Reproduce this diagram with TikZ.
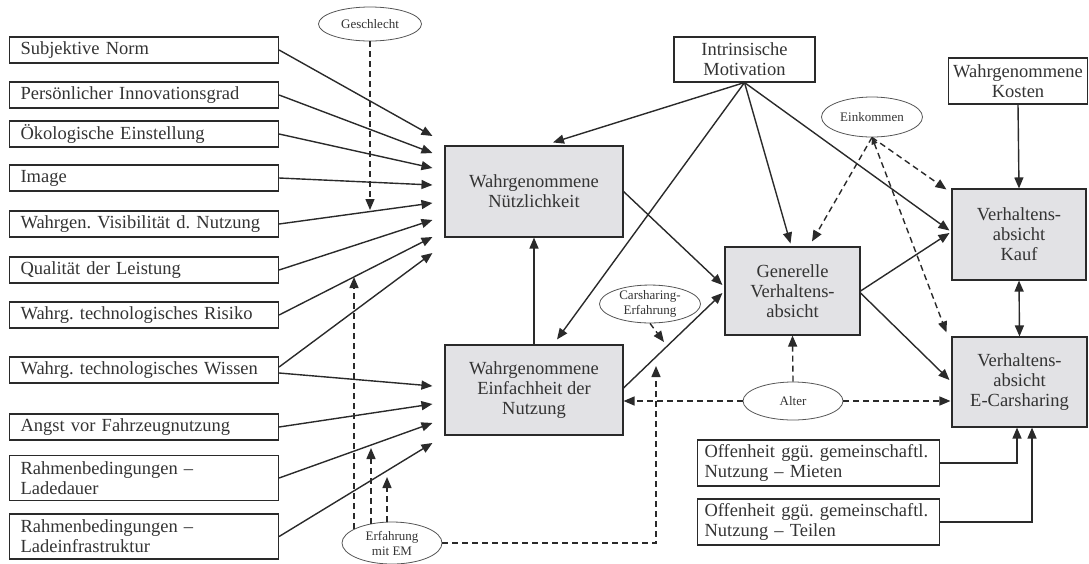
\documentclass[tikz,border=0pt]{standalone}
\usepackage{fontspec}
\setmainfont{Liberation Serif}
\usetikzlibrary{arrows.meta,shapes.geometric,calc}
\definecolor{ln}{HTML}{2A2A2A}
\definecolor{bx}{HTML}{E2E2E5}
\definecolor{tx}{HTML}{333333}
\definecolor{el}{HTML}{555555}
\frenchspacing
\begin{document}
\begin{tikzpicture}[x=1pt,y=-1pt,
  bfont/.style={font=\fontsize{18.5}{20}\selectfont},
  lbox/.style={draw=ln, line width=1.1pt, anchor=west, minimum height=26pt, text width=247pt, inner xsep=11pt, inner ysep=0pt, align=left, text=tx, bfont},
  rbox/.style={draw=ln, line width=1.1pt, anchor=west, minimum height=46pt, text width=228pt, inner xsep=7pt, inner ysep=0pt, align=left, text=tx, bfont},
  gbox/.style={draw=ln, line width=1.1pt, fill=bx, inner sep=0pt, align=center, text=tx, bfont},
  wbox/.style={draw=ln, line width=1.1pt, inner sep=0pt, align=center, text=tx, bfont},
  ell/.style={ellipse, draw=el, line width=0.8pt, inner sep=0pt, align=center, text=tx, font=\fontsize{13}{15}\selectfont},
  arr/.style={draw=ln, line width=1.4pt, -{Triangle[length=11pt,width=9pt]}},
  darr/.style={arr, dash pattern=on 6pt off 4pt},
  dline/.style={draw=ln, line width=1.4pt, dash pattern=on 6pt off 4pt}
]
\useasboundingbox (0,0) rectangle (1089,563);

% left boxes
\node[lbox] (sn) at (9,50) {Subjektive Norm};
\node[lbox] (pi) at (9,95) {Persönlicher Innovationsgrad};
\node[lbox] (oe) at (9,134) {Ökologische Einstellung};
\node[lbox] (im) at (9,178) {Image};
\node[lbox] (wv) at (9,224) {Wahrgen. Visibilität d. Nutzung};
\node[lbox] (ql) at (9,270) {Qualität der Leistung};
\node[lbox] (ri) at (9,315) {Wahrg. technologisches Risiko};
\node[lbox] (wi) at (9,370) {Wahrg. technologisches Wissen};
\node[lbox] (an) at (9,427) {Angst vor Fahrzeugnutzung};
\node[lbox, minimum height=45pt] (ld) at (9,478) {Rahmenbedingungen –\\Ladedauer};
\node[lbox, minimum height=45pt] (li) at (9,536.5) {Rahmenbedingungen –\\Ladeinfrastruktur};

% central boxes
\node[gbox, minimum width=178pt, minimum height=91pt] (wn) at (534,191.5) {Wahrgenommene\\Nützlichkeit};
\node[gbox, minimum width=178pt, minimum height=90pt] (we) at (534,390) {Wahrgenommene\\Einfachheit der\\Nutzung};
\node[gbox, minimum width=135pt, minimum height=88pt] (gv) at (792.5,291) {Generelle\\Verhaltens-\\absicht};
\node[gbox, minimum width=134pt, minimum height=91pt] (vk) at (1019,234.5) {Verhaltens-\\absicht\\Kauf};
\node[gbox, minimum width=135pt, minimum height=90pt] (ve) at (1019.5,382) {Verhaltens-\\absicht\\E-Carsharing};
\node[wbox, minimum width=141pt, minimum height=45pt] (mo) at (744.5,59.5) {Intrinsische\\Motivation};
\node[wbox, minimum width=139pt, minimum height=46pt] (wk) at (1018,81) {Wahrgenommene\\Kosten};
\node[rbox] (om) at (697,463) {Offenheit ggü. gemeinschaftl.\\Nutzung – Mieten};
\node[rbox] (ot) at (697,522) {Offenheit ggü. gemeinschaftl.\\Nutzung – Teilen};

% ellipses
\node[ell, minimum width=103pt, minimum height=34pt] (ge) at (370,24) {Geschlecht};
\node[ell, minimum width=101pt, minimum height=40pt] (ek) at (872,117) {Einkommen};
\node[ell, minimum width=101pt, minimum height=36pt] (ce) at (650,304) {Carsharing-\\Erfahrung};
\node[ell, minimum width=100pt, minimum height=38pt] (al) at (793,401) {Alter};
\node[ell, minimum width=100pt, minimum height=42pt] (em) at (392,543) {Erfahrung\\mit EM};

% free ends
\coordinate (g1) at (370,210);
\coordinate (e1) at (354,277);
\coordinate (e2) at (371,448);
\coordinate (e3) at (387,477);
\coordinate (e4) at (656,366);
\coordinate (c1) at (664,342);

% left -> WN
\foreach \s/\dy in {sn/-55.5, pi/-38.5, oe/-23.5, im/-6.5, wv/11.5, ql/28.5, ri/45.5}
  \draw[arr] (\s.east) -- ($(wn.west)+(-12,\dy)$);
\draw[arr] ($(wi.east)+(0,-3)$) -- ($(wn.west)+(-12,61.5)$);
% left -> WE
\draw[arr] ($(wi.east)+(0,3)$) -- ($(we.west)+(-12,-4)$);
\foreach \s/\dy in {an/14, ld/33, li/53}
  \draw[arr] (\s.east) -- ($(we.west)+(-12,\dy)$);

% intrinsic motivation
\draw[arr] (mo.south) -- ($(wn.north)+(19,-3)$);
\draw[arr] (mo.south) -- ($(we.north)+(23,-5)$);
\draw[arr] (mo.south) -- ($(gv.north)+(-2,-3)$);
\draw[arr] (mo.south) -- ($(vk.west)+(-2,-4)$);

% main paths
\draw[arr] (we.north) -- (wn.south);
\draw[arr] (wn.east) -- ($(gv.west)+(-2,-6)$);
\draw[arr] ($(we.east)+(0,-2)$) -- ($(gv.west)+(-2,2)$);
\draw[arr] (gv.east) -- ($(vk.west)+(-2,-1.5)$);
\draw[arr] ($(gv.east)+(0,2)$) -- ($(ve.west)+(-2,-2)$);
\draw[arr] (wk.south) -- (vk.north);
\draw[draw=ln, line width=1.4pt, {Triangle[length=11pt,width=9pt]}-{Triangle[length=11pt,width=9pt]}] (vk.south) -- (ve.north);
\draw[arr] (om.east) -| ($(ve.south)+(-2.5,0)$);
\draw[arr] (ot.east) -| ($(ve.south)+(12.5,0)$);

% moderators
\draw[darr] (ge.south) -- (g1);
\draw[darr] (e1 |- em.160) -- (e1);
\draw[darr] (e2 |- em.138) -- (e2);
\draw[darr] (e3 |- em.104) -- (e3);
\draw[darr] (em.east) -| (e4);
\draw[darr] (ce.south) -- (c1);
\draw[darr] (ek.south) -- ($(gv.north)+(19.5,-5)$);
\draw[darr] (ek.south) -- ($(vk.north west)+(-5,1)$);
\draw[dline, {Triangle[length=7pt,width=6pt]}-{Triangle[length=11pt,width=9pt]}] (ek.south) -- ($(ve.north west)+(-5,-4)$);
\draw[darr] (al.north) -- (gv.south);
\draw[darr] (al.west) -- (we.east |- al.west);
\draw[darr] (al.east) -- ($(ve.west |- al.east)+(-1,0)$);
\end{tikzpicture}
\end{document}
